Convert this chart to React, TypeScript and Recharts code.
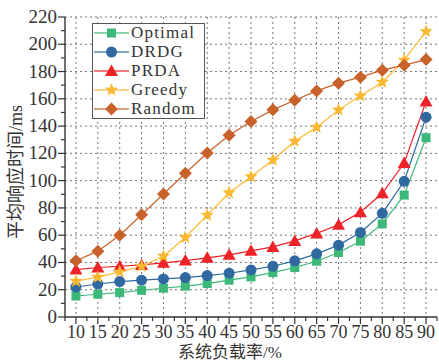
import React from 'react';
import { LineChart, Line, XAxis, YAxis, CartesianGrid, Legend } from 'recharts';

const loads = [10, 15, 20, 25, 30, 35, 40, 45, 50, 55, 60, 65, 70, 75, 80, 85, 90];
const optimal = [15.4, 16.7, 17.9, 19.6, 21.1, 22.6, 24.5, 27, 29.4, 32.6, 36.3, 40.9, 47.3, 55.6, 68.3, 89.4, 131.5];
const drdg = [22, 24.2, 26, 27, 27.9, 28.9, 30.4, 32.1, 34.5, 37.2, 41.2, 46.3, 52.7, 62, 76, 99.5, 146.5];
const prda = [34.8, 36.3, 37.2, 38.2, 39.7, 41.4, 43.4, 45.6, 48.5, 51.4, 55.8, 61.3, 67.6, 76.9, 90.7, 112.9, 158];
const greedy = [26.2, 29.2, 33.1, 37.2, 44.6, 58.3, 74.7, 91.1, 102.9, 115.1, 128.9, 139.2, 151.9, 162.2, 172.2, 188.4, 209.4];
const random = [41.2, 48.3, 60, 75, 90.2, 105.4, 120.3, 133.3, 143.3, 151.9, 159, 165.8, 171.5, 175.9, 181, 184.7, 188.8];

const yTicks = [0, 10, 20, 30, 40, 50, 60, 70, 80, 90, 100, 110, 120, 130, 140, 150, 160, 170, 180, 190, 200, 210, 220];
const yGrid = [20, 40, 60, 80, 100, 120, 140, 160, 180, 200, 220];
const xTicks = [7.5, 10, 12.5, 15, 17.5, 20, 22.5, 25, 27.5, 30, 32.5, 35, 37.5, 40, 42.5, 45, 47.5, 50, 52.5, 55, 57.5, 60, 62.5, 65, 67.5, 70, 72.5, 75, 77.5, 80, 82.5, 85, 87.5, 90, 92.5];

const FONT = '"Liberation Serif", "DejaVu Serif", "Noto Sans CJK SC", serif';
const AXIS = '#333';

type Shape = 'square' | 'circle' | 'triangle' | 'star' | 'diamond';

const series: { key: string; color: string; shape: Shape; values: number[] }[] = [
    { key: 'Optimal', color: '#3cb878', shape: 'square', values: optimal },
    { key: 'DRDG', color: '#2f69a0', shape: 'circle', values: drdg },
    { key: 'PRDA', color: '#ee2229', shape: 'triangle', values: prda },
    { key: 'Greedy', color: '#fbb832', shape: 'star', values: greedy },
    { key: 'Random', color: '#c8612a', shape: 'diamond', values: random },
];

const data = loads.map((load, i) => {
    const row: { [k: string]: number } = { load };
    series.forEach(s => { row[s.key] = s.values[i]; });
    return row;
});

function starPath(cx: number, cy: number, ro: number, ri: number) {
    let d = '';
    for (let i = 0; i < 10; i++) {
        const r = i % 2 === 0 ? ro : ri;
        const a = -Math.PI / 2 + (i * Math.PI) / 5;
        d += (i === 0 ? 'M' : 'L') + (cx + r * Math.cos(a)).toFixed(2) + ',' + (cy + r * Math.sin(a)).toFixed(2);
    }
    return d + 'Z';
}

function Marker({ cx, cy, shape, color }: { cx: number; cy: number; shape: Shape; color: string }) {
    switch (shape) {
        case 'square':
            return <rect x={cx - 4.5} y={cy - 4.5} width={9} height={9} fill={color} />;
        case 'circle':
            return <circle cx={cx} cy={cy} r={5.5} fill={color} />;
        case 'triangle':
            return <path d={`M${cx},${cy - 6.5}L${cx + 6.5},${cy + 5}L${cx - 6.5},${cy + 5}Z`} fill={color} />;
        case 'star':
            return <path d={starPath(cx, cy, 7, 3)} fill={color} />;
        case 'diamond':
            return <path d={`M${cx},${cy - 6.5}L${cx + 6.5},${cy}L${cx},${cy + 6.5}L${cx - 6.5},${cy}Z`} fill={color} />;
    }
    return null;
}

const YTick = (props: any) => {
    const { x, y, payload } = props;
    const major = payload.value % 20 === 0;
    return (
        <g>
            <line x1={x} x2={x - (major ? 7 : 4)} y1={y} y2={y} stroke={AXIS} strokeWidth={1.2} />
            {major && (
                <text x={x - 8} y={y} dy={6} textAnchor="end" fontFamily={FONT} fontSize={19} fill="#333">
                    {payload.value}
                </text>
            )}
        </g>
    );
};

const XTick = (props: any) => {
    const { x, y, payload } = props;
    const v = payload.value;
    const major = v % 5 === 0;
    return (
        <g>
            <line x1={x} x2={x} y1={y} y2={y + (major ? 7 : 4)} stroke={AXIS} strokeWidth={1.2} />
            {major && (
                <text x={x} y={y + 21} textAnchor="middle" fontFamily={FONT} fontSize={18} fill="#333">
                    {v}
                </text>
            )}
        </g>
    );
};

const LegendBox = () => (
    <div
        style={{
            border: '1.5px solid #555',
            background: '#fff',
            fontFamily: FONT,
            fontSize: 17,
            letterSpacing: 1.2,
            color: '#333',
            padding: '0 8px 0 0',
            boxSizing: 'border-box',
        }}
    >
        {series.map(s => (
            <div key={s.key} style={{ display: 'flex', alignItems: 'center', height: 18.8, lineHeight: '18px' }}>
                <svg width={38} height={18} style={{ display: 'block' }}>
                    <line x1={1} x2={36} y1={9} y2={9} stroke={s.color} strokeOpacity={0.6} strokeWidth={2} />
                    <Marker cx={18.5} cy={9} shape={s.shape} color={s.color} />
                </svg>
                <span style={{ whiteSpace: 'nowrap' }}>{s.key}</span>
            </div>
        ))}
    </div>
);

export default function App() {
    return (
        <div style={{ position: 'absolute', left: 0, top: 0, width: 439, height: 362, background: '#fff' }}>
            <LineChart width={439} height={362} data={data} margin={{ top: 17, right: 2, bottom: 0, left: 0 }}>
                <CartesianGrid
                    stroke="#777"
                    strokeDasharray="2 3"
                    horizontalValues={yGrid}
                    verticalValues={loads}
                />
                <XAxis
                    dataKey="load"
                    type="number"
                    domain={[7.5, 92.5]}
                    ticks={xTicks}
                    interval={0}
                    height={45}
                    tickSize={0}
                    tickMargin={0}
                    tick={<XTick />}
                    axisLine={{ stroke: AXIS, strokeWidth: 1.4 }}
                    label={{
                        content: () => (
                            <text x={230} y={357.5} textAnchor="middle" fontFamily={FONT} fontSize={17} fill="#333">
                                系统负载率/%
                            </text>
                        ),
                    }}
                />
                <YAxis
                    type="number"
                    domain={[0, 220]}
                    ticks={yTicks}
                    interval={0}
                    width={65}
                    tickSize={0}
                    tickMargin={0}
                    tick={<YTick />}
                    axisLine={{ stroke: AXIS, strokeWidth: 1.4 }}
                    label={{
                        content: () => (
                            <text
                                x={16}
                                y={172}
                                transform="rotate(-90 16 172)"
                                textAnchor="middle"
                                dominantBaseline="central"
                                fontFamily={FONT}
                                fontSize={18}
                                fill="#333"
                            >
                                平均响应时间/ms
                            </text>
                        ),
                    }}
                />
                <Legend
                    layout="vertical"
                    align="center"
                    verticalAlign="middle"
                    content={<LegendBox />}
                    wrapperStyle={{ left: 92, top: 23, width: 'auto', height: 'auto' }}
                />
                {series.map(s => (
                    <Line
                        key={s.key}
                        dataKey={s.key}
                        stroke={s.color}
                        strokeWidth={1.2}
                        isAnimationActive={false}
                        dot={(p: any) => (
                            <Marker key={`${s.key}-${p.index}`} cx={p.cx} cy={p.cy} shape={s.shape} color={s.color} />
                        )}
                        activeDot={false}
                    />
                ))}
            </LineChart>
        </div>
    );
}
